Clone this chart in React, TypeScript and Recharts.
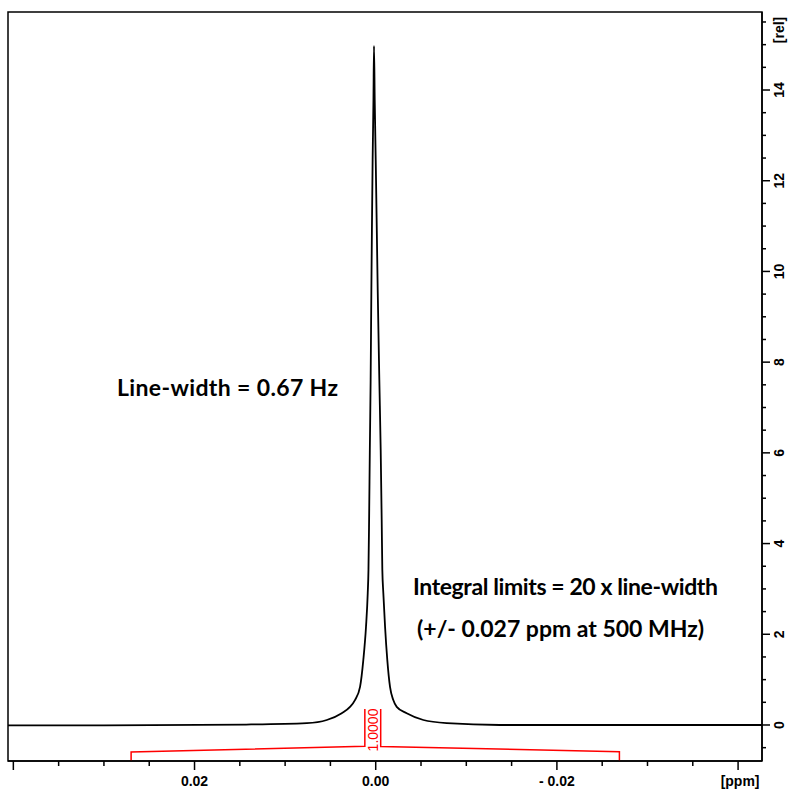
import React from 'react';
import { LineChart, Line, XAxis, YAxis, ReferenceArea, ReferenceDot } from 'recharts';

// spectrum trace (ppm, relative intensity)
const spectrum = [
  { ppm: 0.0406, rel: -0.01 },
  { ppm: 0.03, rel: -0.01 },
  { ppm: 0.0143, rel: 0.01 },
  { ppm: 0.0076, rel: 0.04 },
  { ppm: 0.0054, rel: 0.11 },
  { ppm: 0.00375, rel: 0.26 },
  { ppm: 0.00284, rel: 0.4 },
  { ppm: 0.00229, rel: 0.55 },
  { ppm: 0.00173, rel: 0.84 },
  { ppm: 0.00137, rel: 1.43 },
  { ppm: 0.00107, rel: 2.17 },
  { ppm: 0.00088, rel: 2.91 },
  { ppm: 0.0008, rel: 3.42 },
  { ppm: 0.00073, rel: 4.52 },
  { ppm: 0.00065, rel: 6.06 },
  { ppm: 0.00056, rel: 7.61 },
  { ppm: 0.00048, rel: 9.59 },
  { ppm: 0.00042, rel: 10.91 },
  { ppm: 0.00034, rel: 12.46 },
  { ppm: 0.00025, rel: 13.78 },
  { ppm: 0.00019, rel: 14.97 },
  { ppm: 0.00011, rel: 13.78 },
  { ppm: 0.0, rel: 12.46 },
  { ppm: -0.00012, rel: 10.91 },
  { ppm: -0.00022, rel: 9.59 },
  { ppm: -0.0004, rel: 7.61 },
  { ppm: -0.00055, rel: 6.06 },
  { ppm: -0.00066, rel: 4.52 },
  { ppm: -0.00073, rel: 3.42 },
  { ppm: -0.00084, rel: 2.91 },
  { ppm: -0.00103, rel: 2.17 },
  { ppm: -0.00128, rel: 1.43 },
  { ppm: -0.00158, rel: 0.84 },
  { ppm: -0.00194, rel: 0.55 },
  { ppm: -0.00232, rel: 0.4 },
  { ppm: -0.00342, rel: 0.26 },
  { ppm: -0.00526, rel: 0.11 },
  { ppm: -0.00784, rel: 0.04 },
  { ppm: -0.0137, rel: 0 },
  { ppm: -0.0427, rel: 0 },
];

// integral trace, left and right parts around the label
const integralLeft = [
  { ppm: 0.027, rel: -0.794 },
  { ppm: 0.027, rel: -0.595 },
  { ppm: 0.0012, rel: -0.47 },
  { ppm: 0.0012, rel: 0.35 },
];
const integralRight = [
  { ppm: -0.00055, rel: 0.35 },
  { ppm: -0.00055, rel: -0.475 },
  { ppm: -0.0269, rel: -0.59 },
  { ppm: -0.0269, rel: -0.794 },
];

const integralValue = '1.0000';

const xTicks = [
  0.04, 0.035, 0.03, 0.025, 0.02, 0.015, 0.01, 0.005, 0,
  -0.005, -0.01, -0.015, -0.02, -0.025, -0.03, -0.035, -0.04,
];
const xMajor = [0.04, 0.02, 0, -0.02, -0.04];
const xTickLabels: Record<string, string> = {
  '0.02': '0.02',
  '0': '0.00',
  '-0.02': '- 0.02',
  '-0.04': '[ppm]',
};

const yTicks = [
  -0.5, 0, 0.5, 1, 1.5, 2, 2.5, 3, 3.5, 4, 4.5, 5, 5.5, 6, 6.5, 7, 7.5,
  8, 8.5, 9, 9.5, 10, 10.5, 11, 11.5, 12, 12.5, 13, 13.5, 14, 14.5, 15, 15.5,
];
const yMajor = [0, 2, 4, 6, 8, 10, 12, 14];

const X_MIN = -0.04264;
const X_MAX = 0.04059;
const Y_MIN = -0.794;
const Y_MAX = 15.72;

const tickFont = { fontFamily: '"Liberation Sans", Arial, sans-serif', fontWeight: 700, fontSize: 14 };
const noteFont = { fontFamily: 'Lato, "Open Sans", sans-serif', fontWeight: 700, fontSize: 23 };

const XTick = ({ x, y, payload }: any) => {
  const v = payload.value;
  const major = xMajor.includes(v);
  const label = xTickLabels[String(v)];
  return (
    <g>
      <line x1={x} x2={x} y1={y} y2={y + (major ? 9 : 5)} stroke="#000" strokeWidth={1.5} />
      {label && (
        <text x={label === '[ppm]' ? x + 2 : x} y={y + 25} textAnchor="middle" fill="#000" {...tickFont}>
          {label}
        </text>
      )}
    </g>
  );
};

const YTick = ({ x, y, payload }: any) => {
  const v = payload.value;
  const major = yMajor.includes(v);
  return (
    <g>
      <line x1={x} x2={x + (major ? 8 : 4)} y1={y} y2={y} stroke="#000" strokeWidth={1.5} />
      {major && (
        <text
          transform={`translate(${x + 17},${y}) rotate(-90)`}
          textAnchor="middle"
          dominantBaseline="central"
          fill="#000"
          {...tickFont}
        >
          {v}
        </text>
      )}
    </g>
  );
};

const note = (text: string, width: number) => (props: any) => (
  <text x={props.cx} y={props.cy} textAnchor="middle" fill="#000" textLength={width} {...noteFont}>
    {text}
  </text>
);

const integralLabel = (props: any) => (
  <text
    transform={`translate(${props.cx},${props.cy}) rotate(-90)`}
    textAnchor="middle"
    dominantBaseline="central"
    fill="#ff0000"
    fontFamily='"Liberation Sans", Arial, sans-serif'
    fontSize={14}
  >
    {integralValue}
  </text>
);

const App: React.FC = () => {
  return (
    <div style={{ position: 'absolute', left: 0, top: 0, background: '#fff' }}>
      <LineChart width={790} height={789} margin={{ top: 12, right: 0, bottom: 0, left: 8 }}>
        <XAxis
          dataKey="ppm"
          type="number"
          reversed
          domain={[X_MIN, X_MAX]}
          allowDataOverflow
          ticks={xTicks}
          interval={0}
          tick={XTick}
          tickLine={false}
          tickSize={0}
          tickMargin={0}
          height={28}
          axisLine={{ stroke: '#000', strokeWidth: 1.5 }}
        />
        <YAxis
          orientation="right"
          type="number"
          domain={[Y_MIN, Y_MAX]}
          allowDataOverflow
          ticks={yTicks}
          interval={0}
          tick={YTick}
          tickLine={false}
          tickSize={0}
          tickMargin={0}
          width={28}
          axisLine={{ stroke: '#000', strokeWidth: 1.5 }}
          label={{
            content: ({ viewBox }: any) => (
              <text
                transform={`translate(${viewBox.x + 17},${viewBox.y + 18}) rotate(-90)`}
                textAnchor="middle"
                dominantBaseline="central"
                fill="#000"
                {...tickFont}
              >
                [rel]
              </text>
            ),
          }}
        />
        <ReferenceArea
          x1={X_MAX}
          x2={X_MIN}
          y1={Y_MIN}
          y2={Y_MAX}
          fill="none"
          stroke="#000"
          strokeWidth={1.5}
        />
        <Line
          data={spectrum}
          dataKey="rel"
          type="monotone"
          stroke="#000"
          strokeWidth={1.8}
          dot={false}
          isAnimationActive={false}
        />
        <Line
          data={integralLeft}
          dataKey="rel"
          type="linear"
          stroke="#ff0000"
          strokeWidth={1.5}
          dot={false}
          isAnimationActive={false}
        />
        <Line
          data={integralRight}
          dataKey="rel"
          type="linear"
          stroke="#ff0000"
          strokeWidth={1.5}
          dot={false}
          isAnimationActive={false}
        />
        <ReferenceDot x={0.0003} y={-0.11} r={1} shape={integralLabel} />
        <ReferenceDot x={0.01636} y={7.25} r={1} shape={note('Line-width = 0.67 Hz', 221)} />
        <ReferenceDot x={-0.02095} y={2.866} r={1} shape={note('Integral limits = 20 x line-width', 305)} />
        <ReferenceDot x={-0.0204} y={1.94} r={1} shape={note('(+/- 0.027 ppm at 500 MHz)', 287)} />
      </LineChart>
    </div>
  );
};

export default App;
